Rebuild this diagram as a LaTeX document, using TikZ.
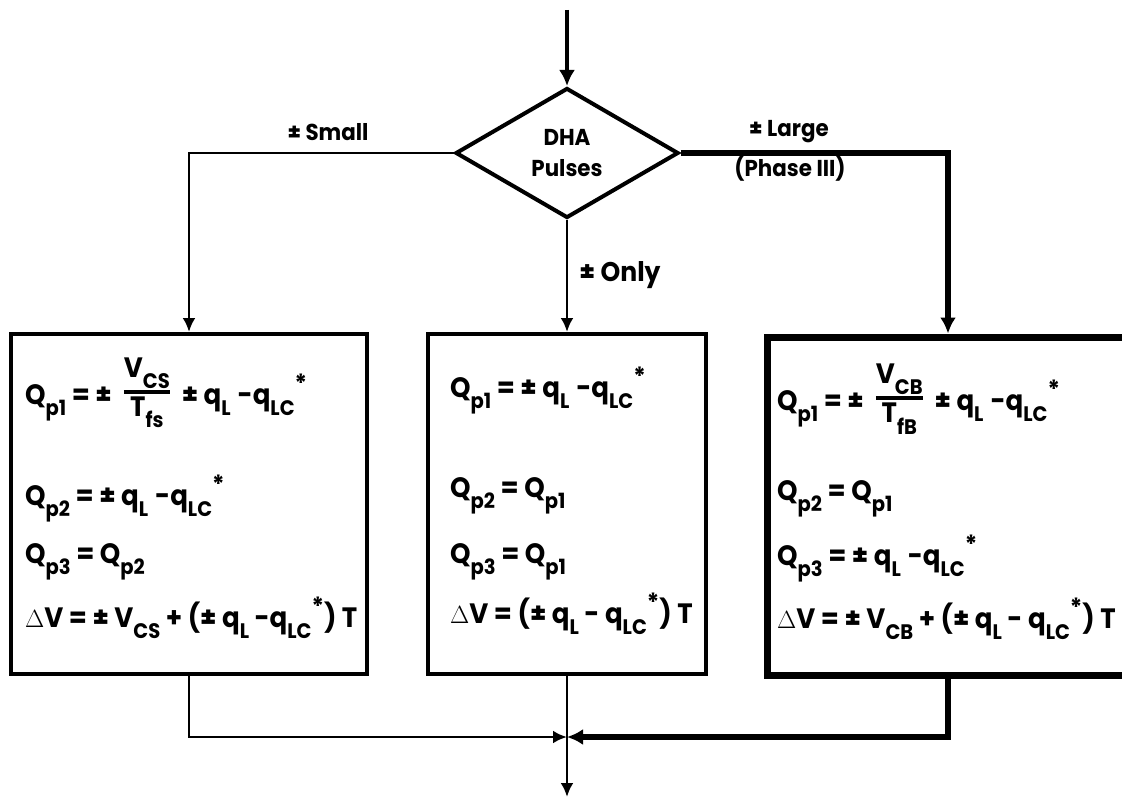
\documentclass[tikz,border=0pt]{standalone}
\usepackage{fontspec}
\setmainfont{Poppins}[FakeStretch=0.93]
\usetikzlibrary{arrows.meta,shapes.geometric}
\newcommand\sbx[1]{\raisebox{-0.42em}{\fontsize{21}{21}\selectfont #1}}
\newcommand\spx[1]{\raisebox{0.42em}{\fontsize{25}{25}\selectfont #1}}
\newcommand\gapx{\hspace{7pt}}
\newcommand\fracx[2]{\hspace{12pt}\raisebox{5pt}{$\vcenter{\hbox{\vbox{\halign{\hfil##\hfil\cr #1\cr\noalign{\kern1pt\hrule height 3.5pt\kern3pt}#2\cr}}}}$}\hspace{12pt}}
\tikzset{
  thinln/.style={line width=2.8pt},
  thickln/.style={line width=6.5pt},
  thintip/.style={-{Latex[length=14pt,width=13pt]}},
  thicktip/.style={-{Latex[length=16pt,width=16pt]}},
  boxthin/.style={draw, line width=4pt, inner sep=0pt},
  boxthick/.style={draw, line width=7pt, inner sep=0pt},
  formula/.style={anchor=base west, inner sep=0pt, font=\fontsize{28}{30}\selectfont\bfseries},
  lbl/.style={anchor=base, inner sep=0pt, font=\fontsize{23}{26}\selectfont\bfseries},
}
\begin{document}
\begin{tikzpicture}[x=1pt,y=-1pt]
\useasboundingbox (0,0) rectangle (1122,797);
% decision
\node[draw, diamond, line width=4pt, minimum width=223pt, minimum height=130pt, aspect=1.7, inner sep=0pt, align=center, font=\fontsize{23}{31}\selectfont\bfseries] (dha) at (567,153) {DHA\\Pulses};
\coordinate (start) at (567,10);
% boxes
\node[boxthin, minimum width=356pt, minimum height=340pt] (lbox) at (189,504) {};
\node[boxthin, minimum width=278pt, minimum height=340pt] (mbox) at (567,504) {};
\node[boxthick, minimum width=400pt, minimum height=338pt] (rbox) at (967,506) {};
\coordinate (rv) at (948,0);
% labels
\node[lbl] (lsmall) at (328,141) {± Small};
\node[lbl] (llarge) at (789,137) {± Large};
\node[lbl] (lphase) at (790,177) {(Phase III)};
\node[lbl, font=\fontsize{27}{30}\selectfont\bfseries] (lonly) at (620,281) {± Only};
% connectors
\draw[line width=4.5pt, thicktip] (start) -- (dha.north);
\draw[thinln, thintip] (dha.west) -| (lbox.north);
\draw[thinln, thintip] (dha.south) -- (mbox.north);
\draw[thickln, thicktip] (dha.east) -| (rbox.north -| rv);
\coordinate (join) at (567,737);
\coordinate (exit) at (567,797);
\draw[thinln, thintip] (lbox.south) |- (join);
\draw[thickln, thicktip] (rbox.south -| rv) |- (join);
\draw[thinln, thintip] (mbox.south) -- (exit);
% left box formulas
\node[formula] (l1) at (25,404) {Q\sbx{p1} = ±\fracx{V\sbx{CS}}{T\sbx{fs}}± q\sbx{L}\gapx-q\sbx{LC}\spx{*}};
\node[formula] (l2) at (25,505) {Q\sbx{p2} = ± q\sbx{L}\gapx-q\sbx{LC}\spx{*}};
\node[formula] (l3) at (25,563) {Q\sbx{p3} = Q\sbx{p2}};
\node[formula] (l4) at (25,627) {$\Delta$V = ± V\sbx{CS} + (± q\sbx{L} -q\sbx{LC}\spx{*}) T};
% middle box formulas
\node[formula] (m1) at (450,397) {Q\sbx{p1} = ± q\sbx{L}\gapx-q\sbx{LC}\spx{*}};
\node[formula] (m2) at (450,497) {Q\sbx{p2} = Q\sbx{p1}};
\node[formula] (m3) at (450,563) {Q\sbx{p3} = Q\sbx{p1}};
\node[formula] (m4) at (450,623) {$\Delta$V = (± q\sbx{L} - q\sbx{LC}\spx{*}) T};
% right box formulas
\node[formula] (r1) at (777,410) {Q\sbx{p1} = ±\fracx{V\sbx{CB}}{T\sbx{fB}}± q\sbx{L}\gapx-q\sbx{LC}\spx{*}};
\node[formula] (r2) at (777,500) {Q\sbx{p2} = Q\sbx{p1}};
\node[formula] (r3) at (777,565) {Q\sbx{p3} = ± q\sbx{L}\gapx-q\sbx{LC}\spx{*}};
\node[formula] (r4) at (777,628) {$\Delta$V = ± V\sbx{CB} + (± q\sbx{L} - q\sbx{LC}\spx{*}) T};
\end{tikzpicture}
\end{document}
